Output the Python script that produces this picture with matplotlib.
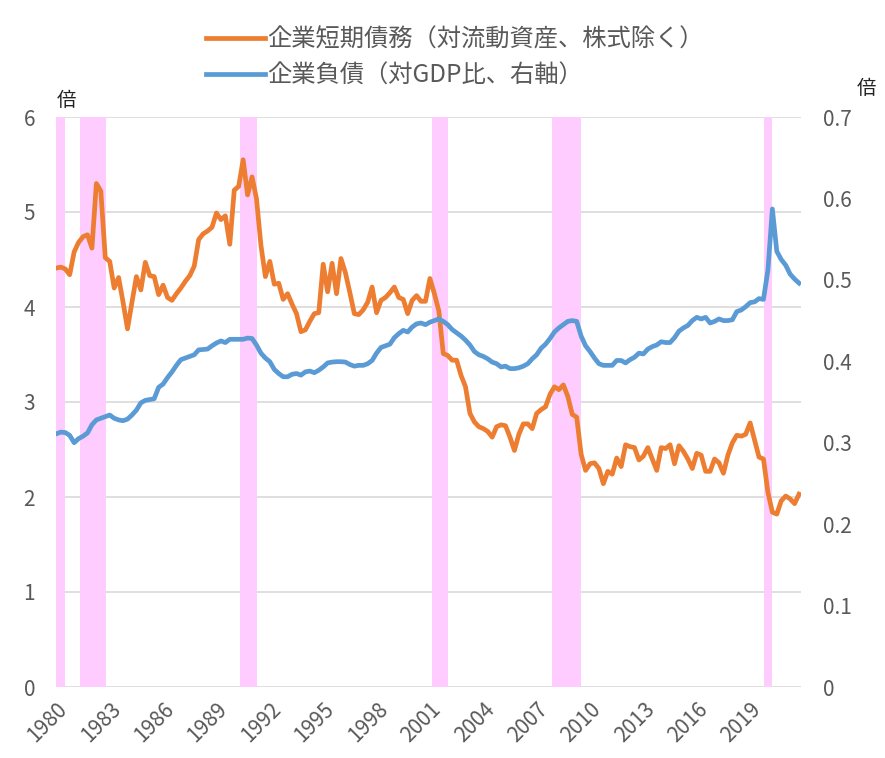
import numpy as np
import matplotlib
matplotlib.use("Agg")
import matplotlib.pyplot as plt

plt.rcParams["font.family"] = ["Noto Sans CJK JP", "DejaVu Sans"]

# quarterly data, 1980Q1 - 2021Q4
START_YEAR = 1980
short_debt = [
    4.41, 4.42, 4.40, 4.34, 4.58, 4.68, 4.74, 4.76, 4.62, 5.30,
    5.22, 4.52, 4.48, 4.20, 4.31, 4.05, 3.77, 4.05, 4.32, 4.18,
    4.47, 4.33, 4.32, 4.13, 4.23, 4.10, 4.07, 4.14, 4.20, 4.27,
    4.33, 4.43, 4.71, 4.77, 4.80, 4.84, 4.99, 4.92, 4.96, 4.66,
    5.23, 5.27, 5.55, 5.18, 5.37, 5.14, 4.65, 4.32, 4.48, 4.24,
    4.25, 4.08, 4.14, 4.03, 3.93, 3.74, 3.76, 3.85, 3.93, 3.94,
    4.45, 4.16, 4.46, 4.14, 4.51, 4.36, 4.15, 3.93, 3.92, 3.97,
    4.05, 4.21, 3.94, 4.07, 4.10, 4.15, 4.21, 4.10, 4.08, 3.93,
    4.07, 4.12, 4.06, 4.06, 4.30, 4.14, 3.96, 3.51, 3.49, 3.44,
    3.44, 3.28, 3.16, 2.88, 2.79, 2.74, 2.72, 2.69, 2.63, 2.74,
    2.76, 2.75, 2.63, 2.49, 2.66, 2.77, 2.77, 2.72, 2.88, 2.92,
    2.95, 3.08, 3.16, 3.13, 3.18, 3.06, 2.87, 2.84, 2.45, 2.28,
    2.35, 2.36, 2.30, 2.14, 2.27, 2.24, 2.41, 2.32, 2.55, 2.53,
    2.52, 2.39, 2.43, 2.52, 2.40, 2.28, 2.52, 2.51, 2.55, 2.35,
    2.54, 2.48, 2.40, 2.30, 2.46, 2.44, 2.27, 2.27, 2.40, 2.36,
    2.25, 2.44, 2.57, 2.65, 2.64, 2.66, 2.78, 2.60, 2.42, 2.40,
    2.05, 1.84, 1.82, 1.96, 2.01, 1.98, 1.93, 2.03,
]
debt_gdp = [
    0.311, 0.313, 0.3125, 0.309, 0.300, 0.305, 0.308, 0.312, 0.322, 0.328,
    0.330, 0.332, 0.334, 0.330, 0.328, 0.327, 0.329, 0.334, 0.340, 0.349,
    0.352, 0.353, 0.354, 0.368, 0.372, 0.380, 0.387, 0.395, 0.402, 0.404,
    0.406, 0.408, 0.414, 0.4145, 0.415, 0.419, 0.4225, 0.425, 0.423, 0.427,
    0.427, 0.427, 0.427, 0.4285, 0.428, 0.420, 0.410, 0.404, 0.3995, 0.390,
    0.385, 0.381, 0.381, 0.384, 0.385, 0.383, 0.387, 0.388, 0.386, 0.389,
    0.393, 0.398, 0.399, 0.3995, 0.3995, 0.399, 0.396, 0.394, 0.395, 0.395,
    0.397, 0.401, 0.410, 0.417, 0.419, 0.421, 0.429, 0.434, 0.438, 0.436,
    0.442, 0.446, 0.447, 0.445, 0.448, 0.450, 0.452, 0.449, 0.445, 0.439,
    0.435, 0.431, 0.426, 0.420, 0.412, 0.408, 0.406, 0.403, 0.399, 0.397,
    0.393, 0.394, 0.391, 0.391, 0.392, 0.394, 0.397, 0.403, 0.408, 0.416,
    0.421, 0.428, 0.436, 0.441, 0.445, 0.449, 0.450, 0.449, 0.431, 0.419,
    0.412, 0.404, 0.397, 0.395, 0.395, 0.395, 0.401, 0.401, 0.398, 0.402,
    0.405, 0.410, 0.409, 0.415, 0.418, 0.420, 0.424, 0.423, 0.423, 0.429,
    0.437, 0.441, 0.444, 0.450, 0.454, 0.452, 0.454, 0.447, 0.449, 0.452,
    0.450, 0.450, 0.451, 0.461, 0.463, 0.467, 0.472, 0.473, 0.477, 0.476,
    0.512, 0.587, 0.535, 0.525, 0.518, 0.507, 0.501, 0.496,
]
# recession periods (start, end) in years
recessions = [
    (1980.0, 1980.5), (1981.35, 1982.81), (1990.34, 1991.30),
    (2001.14, 2002.03), (2007.88, 2009.51), (2019.80, 2020.25),
]
year_ticks = list(range(1980, 2020, 3))
label_short = "企業短期債務（対流動資産、株式除く）"
label_debt = "企業負債（対GDP比、右軸）"

t = START_YEAR + np.arange(len(short_debt)) / 4.0

ORANGE = "#ED7D31"
BLUE = "#5B9BD5"
PINK = "#FFCCFF"
GRAY = "#595959"

fig = plt.figure(figsize=(8.85, 7.58), dpi=100)
ax = fig.add_axes([56 / 885, 1 - 687 / 758, 745 / 885, 570 / 758])
ax2 = ax.twinx()

ax.yaxis.grid(True, color="#D9D9D9", linewidth=1.2, zorder=0)
ax.set_axisbelow(True)
for a, b in recessions:
    ax.axvspan(a, b, color=PINK, lw=0, zorder=1)

l1, = ax.plot(t, short_debt, color=ORANGE, lw=3.4, solid_joinstyle="round",
              zorder=3, label=label_short)
l2, = ax2.plot(t, debt_gdp, color=BLUE, lw=3.4, solid_joinstyle="round",
               zorder=3, label=label_debt)

ax.set_xlim(1979.98, 2021.86)
ax.set_ylim(0, 6)
ax2.set_ylim(0, 0.7)
ax.set_yticks(range(0, 7))
ax2.set_yticks(np.arange(0, 0.71, 0.1))
ax2.set_yticklabels(["0"] + [f"{v:.1f}" for v in np.arange(0.1, 0.71, 0.1)])
ax.set_xticks(year_ticks)
ax.set_xticklabels([str(y) for y in year_ticks], rotation=45, ha="right",
                   rotation_mode="anchor")

for a in (ax, ax2):
    for s in a.spines.values():
        s.set_visible(False)
    a.tick_params(length=0, labelsize=15, labelcolor=GRAY)
ax.tick_params(axis="y", pad=15)
ax2.tick_params(axis="y", pad=16)
ax.tick_params(axis="x", pad=8)

fig.text(57 / 885, 1 - 100 / 758, "倍", fontsize=14, color="#222222",
         ha="left", va="center")
fig.text(866 / 885, 1 - 88 / 758, "倍", fontsize=14, color="#222222",
         ha="center", va="center")

fig.legend(handles=[l1, l2], loc="upper left", bbox_to_anchor=(0.222, 0.978),
           frameon=False, fontsize=17.5, labelcolor=GRAY, handlelength=2.4,
           handletextpad=0.12, labelspacing=0.42, borderaxespad=0)

fig.savefig("out.png", dpi=100)
